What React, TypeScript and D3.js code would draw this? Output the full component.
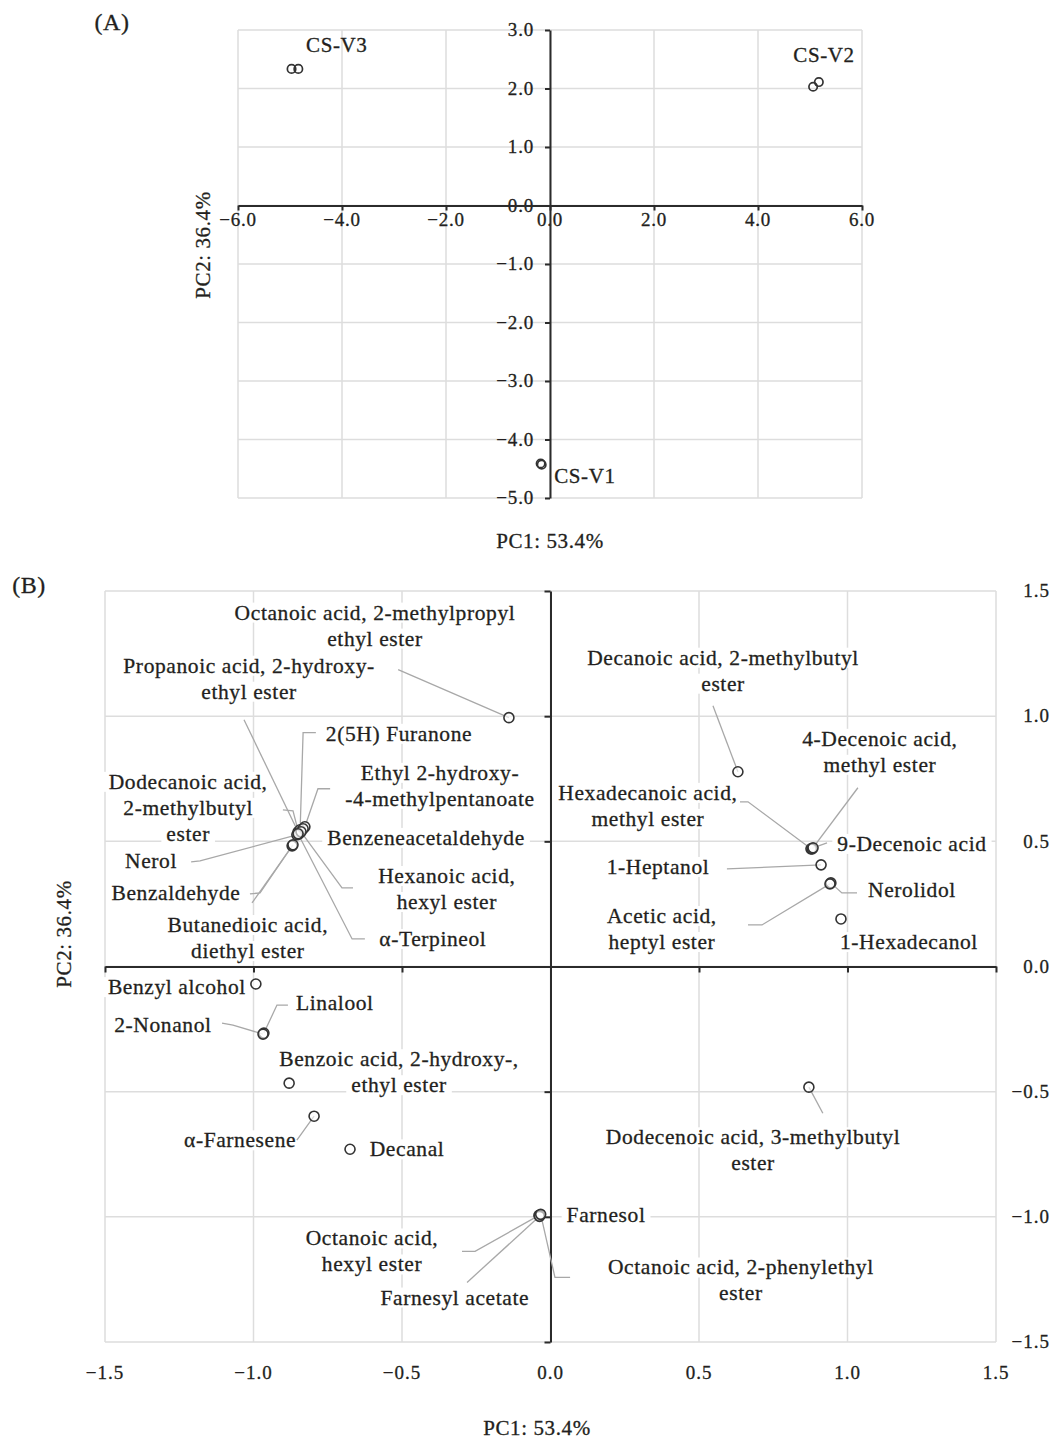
import React, { useEffect, useRef } from 'react';
import * as d3 from 'd3';

// ---------- Panel A: scores ----------
const scoreSamples = ['CS-V3', 'CS-V3', 'CS-V2', 'CS-V2', 'CS-V1', 'CS-V1'];
const scorePC1 = [-4.97, -4.84, 5.06, 5.17, -0.18, -0.16];
const scorePC2 = [2.335, 2.335, 2.03, 2.11, -4.41, -4.43];
const scoreLabelText = ['CS-V3', 'CS-V2', 'CS-V1'];
const scoreLabelPC1 = [-4.1, 5.27, 0.67];
const scoreLabelPC2 = [2.74, 2.57, -4.62];
const aXTicks = [-6, -4, -2, 0, 2, 4, 6];
const aYTicks = [3, 2, 1, 0, -1, -2, -3, -4, -5];

// ---------- Panel B: loadings ----------
const compounds = [
  'Octanoic acid, 2-methylpropyl ethyl ester', 'Propanoic acid, 2-hydroxy- ethyl ester', '2(5H) Furanone',
  'Ethyl 2-hydroxy-4-methylpentanoate', 'Dodecanoic acid, 2-methylbutyl ester', 'Benzeneacetaldehyde',
  'Nerol', 'Benzaldehyde', 'Butanedioic acid, diethyl ester', 'Hexanoic acid, hexyl ester', 'α-Terpineol',
  'Decanoic acid, 2-methylbutyl ester', 'Hexadecanoic acid, methyl ester', '4-Decenoic acid, methyl ester',
  '9-Decenoic acid', '1-Heptanol', 'Nerolidol', 'Acetic acid, heptyl ester', '1-Hexadecanol',
  'Benzyl alcohol', 'Linalool', '2-Nonanol', 'Benzoic acid, 2-hydroxy-, ethyl ester', 'α-Farnesene',
  'Decanal', 'Farnesol', 'Octanoic acid, hexyl ester', 'Farnesyl acetate',
  'Octanoic acid, 2-phenylethyl ester', 'Dodecenoic acid, 3-methylbutyl ester',
];
const loadPC1 = [-0.14, -0.85, -0.843, -0.827, -0.847, -0.833, -0.854, -0.87, -0.867, -0.84, -0.85,
  0.631, 0.877, 0.881, 0.884, 0.911, 0.944, 0.941, 0.978,
  -0.992, -0.965, -0.968, -0.88, -0.796, -0.675, -0.035, -0.039, -0.037, -0.033, 0.87];
const loadPC2 = [0.994, 0.538, 0.546, 0.558, 0.53, 0.55, 0.526, 0.482, 0.486, 0.538, 0.53,
  0.778, 0.47, 0.47, 0.474, 0.406, 0.334, 0.33, 0.19,
  -0.07, -0.266, -0.27, -0.466, -0.598, -0.73, -0.994, -0.994, -0.998, -0.99, -0.482];
const labelLines = [
  ['Octanoic acid, 2-methylpropyl', 'ethyl ester'], ['Propanoic acid, 2-hydroxy-', 'ethyl ester'], ['2(5H) Furanone'],
  ['Ethyl 2-hydroxy-', '-4-methylpentanoate'], ['Dodecanoic acid,', '2-methylbutyl', 'ester'], ['Benzeneacetaldehyde'],
  ['Nerol'], ['Benzaldehyde'], ['Butanedioic acid,', 'diethyl ester'], ['Hexanoic acid,', 'hexyl ester'], ['α-Terpineol'],
  ['Decanoic acid, 2-methylbutyl', 'ester'], ['Hexadecanoic acid,', 'methyl ester'], ['4-Decenoic acid,', 'methyl ester'],
  ['9-Decenoic acid'], ['1-Heptanol'], ['Nerolidol'], ['Acetic acid,', 'heptyl ester'], ['1-Hexadecanol'],
  ['Benzyl alcohol'], ['Linalool'], ['2-Nonanol'], ['Benzoic acid, 2-hydroxy-,', 'ethyl ester'], ['α-Farnesene'],
  ['Decanal'], ['Farnesol'], ['Octanoic acid,', 'hexyl ester'], ['Farnesyl acetate'],
  ['Octanoic acid, 2-phenylethyl', 'ester'], ['Dodecenoic acid, 3-methylbutyl', 'ester'],
];
// label anchor (centre of first line) in PC units
const labelPC1 = [-0.591, -1.015, -0.51, -0.372, -1.22, -0.419, -1.345, -1.261, -1.019, -0.349, -0.396,
  0.581, 0.328, 1.109, 1.217, 0.362, 1.217, 0.375, 1.207,
  -1.258, -0.726, -1.305, -0.51, -1.045, -0.483, 0.187, -0.601, -0.322, 0.641, 0.682];
const labelPC2 = [1.414, 1.202, 0.93, 0.774, 0.738, 0.514, 0.422, 0.294, 0.166, 0.362, 0.11,
  1.234, 0.694, 0.91, 0.49, 0.398, 0.306, 0.202, 0.098,
  -0.082, -0.146, -0.234, -0.37, -0.694, -0.73, -0.994, -1.086, -1.322, -1.202, -0.682];
// leader-line waypoints (PC units), the point itself is appended
const leaderPaths: [number, number][][] = [
  [[-0.513, 1.186]], [[-1.032, 0.986]], [[-0.79, 0.934], [-0.833, 0.934]],
  [[-0.742, 0.71], [-0.783, 0.71]], [[-0.901, 0.626], [-0.867, 0.622]], [],
  [[-1.21, 0.418], [-1.18, 0.422]], [[-1.012, 0.29], [-0.978, 0.294]], [[-1.005, 0.254]],
  [[-0.665, 0.314], [-0.702, 0.314]], [[-0.625, 0.11], [-0.668, 0.11]],
  [[0.547, 1.042]], [[0.638, 0.658], [0.665, 0.658]], [[1.035, 0.714]],
  [[0.931, 0.494]], [[0.594, 0.39]], [[1.032, 0.294], [0.981, 0.294]], [[0.665, 0.166], [0.712, 0.166]], [],
  [], [[-0.884, -0.154], [-0.921, -0.154]], [[-1.106, -0.226], [-1.069, -0.234]], [], [[-0.854, -0.694], [-0.837, -0.666]],
  [], [], [[-0.298, -1.138], [-0.254, -1.138]], [[-0.281, -1.262]],
  [[0.066, -1.242], [0.015, -1.242]], [[0.917, -0.586]],
];
const bTicks = [-1.5, -1.0, -0.5, 0.0, 0.5, 1.0, 1.5];

const FONT = '"Liberation Serif", "Times New Roman", serif';
const GRID = '#dddddd';
const AXIS = '#2b2b2b';
const LEADER = '#a8a8a8';
const TEXT = '#231f20';

export default function App() {
  const ref = useRef<SVGSVGElement>(null);

  useEffect(() => {
    const svg = d3.select(ref.current);
    svg.selectAll('*').remove();
    const fmt = d3.format('.1f');

    const addText = (g: any, s: string, x: number, y: number, size: number, anchor = 'middle', ls = 0.6) =>
      g.append('text').attr('x', x).attr('y', y).attr('dy', '0.33em').attr('text-anchor', anchor)
        .attr('font-family', FONT).attr('font-size', size).attr('letter-spacing', ls).attr('fill', TEXT)
        .attr('stroke', TEXT).attr('stroke-width', 0.3).text(s);

    const addLabel = (g: any, lines: string[], cx: number, cy: number, size: number, lineH: number, bg: boolean) => {
      const lg = g.append('g');
      lines.forEach((ln, i) => {
        const t = addText(lg, ln, cx, cy + i * lineH, size);
        if (bg) {
          const bb = (t.node() as SVGTextElement).getBBox();
          lg.insert('rect', 'text').attr('x', bb.x - 5).attr('y', bb.y + 2).attr('width', bb.width + 10)
            .attr('height', bb.height - 4).attr('fill', 'white');
        }
      });
    };

    // ================= Panel A =================
    const ax = d3.scaleLinear().domain([-6, 6]).range([238, 862]);
    const ay = d3.scaleLinear().domain([-5, 3]).range([498, 30]);
    const gA = svg.append('g');
    gA.selectAll('line.vg').data(aXTicks).join('line').attr('class', 'vg')
      .attr('x1', (d) => ax(d)).attr('x2', (d) => ax(d)).attr('y1', ay(3)).attr('y2', ay(-5))
      .attr('stroke', GRID).attr('stroke-width', 1.5);
    gA.selectAll('line.hg').data(aYTicks).join('line').attr('class', 'hg')
      .attr('y1', (d) => ay(d)).attr('y2', (d) => ay(d)).attr('x1', ax(-6)).attr('x2', ax(6))
      .attr('stroke', GRID).attr('stroke-width', 1.5);

    // tick labels
    aXTicks.forEach((t) => addText(gA, fmt(t), ax(t), 220, 19, 'middle', 0.8));
    aYTicks.forEach((t) => addText(gA, fmt(t), 534, ay(t), 19, 'end', 0.8));

    // axes
    const xAxisA = d3.axisBottom(ax).tickValues(aXTicks).tickSize(5).tickSizeOuter(0).tickFormat(() => '');
    gA.append('g').attr('transform', `translate(0,${ay(0)})`).call(xAxisA)
      .call((g: any) => g.selectAll('path,line').attr('stroke', AXIS).attr('stroke-width', 2));
    const yAxisA = d3.axisLeft(ay).tickValues(aYTicks).tickSize(5).tickSizeOuter(0).tickFormat(() => '');
    gA.append('g').attr('transform', `translate(${ax(0)},0)`).call(yAxisA)
      .call((g: any) => g.selectAll('path,line').attr('stroke', AXIS).attr('stroke-width', 2));

    scoreLabelText.forEach((s, i) => addLabel(gA, [s], ax(scoreLabelPC1[i]), ay(scoreLabelPC2[i]), 21, 26, false));
    gA.selectAll('circle').data(scoreSamples).join('circle')
      .attr('cx', (_d, i) => ax(scorePC1[i])).attr('cy', (_d, i) => ay(scorePC2[i])).attr('r', 4.2)
      .attr('fill', 'none').attr('stroke', '#333').attr('stroke-width', 1.7);

    addText(svg, '(A)', 112, 22, 24, 'middle', 0.5);
    addText(svg, 'PC1: 53.4%', 550, 541, 21, 'middle', 0.6);
    svg.append('g').attr('transform', 'translate(203,245) rotate(-90)')
      .call((g: any) => addText(g, 'PC2: 36.4%', 0, 0, 21, 'middle', 0.6));

    // ================= Panel B =================
    const bx = d3.scaleLinear().domain([-1.5, 1.5]).range([105, 996]);
    const by = d3.scaleLinear().domain([-1.5, 1.5]).range([1342, 591]);
    const gB = svg.append('g');
    gB.selectAll('line.vg').data(bTicks).join('line').attr('class', 'vg')
      .attr('x1', (d) => bx(d)).attr('x2', (d) => bx(d)).attr('y1', by(1.5)).attr('y2', by(-1.5))
      .attr('stroke', GRID).attr('stroke-width', 1.5);
    gB.selectAll('line.hg').data(bTicks).join('line').attr('class', 'hg')
      .attr('y1', (d) => by(d)).attr('y2', (d) => by(d)).attr('x1', bx(-1.5)).attr('x2', bx(1.5))
      .attr('stroke', GRID).attr('stroke-width', 1.5);

    // labels with white backgrounds
    compounds.forEach((_c, i) =>
      addLabel(gB, labelLines[i], bx(labelPC1[i]), by(labelPC2[i]), 21.5, 26, true));

    // axes
    const xAxisB = d3.axisBottom(bx).tickValues(bTicks).tickSize(6).tickSizeOuter(0).tickFormat(() => '');
    gB.append('g').attr('transform', `translate(0,${by(0)})`).call(xAxisB)
      .call((g: any) => g.selectAll('path,line').attr('stroke', AXIS).attr('stroke-width', 2));
    const yAxisB = d3.axisLeft(by).tickValues(bTicks).tickSize(6).tickSizeOuter(0).tickFormat(() => '');
    gB.append('g').attr('transform', `translate(${bx(0)},0)`).call(yAxisB)
      .call((g: any) => g.selectAll('path,line').attr('stroke', AXIS).attr('stroke-width', 2));

    bTicks.forEach((t) => addText(gB, fmt(t), bx(t), 1373, 19, 'middle', 1));
    bTicks.forEach((t) => addText(gB, fmt(t), 1050, by(t), 19, 'end', 1));

    // leader lines
    const line = d3.line<[number, number]>().x((d) => bx(d[0])).y((d) => by(d[1]));
    compounds.forEach((_c, i) => {
      if (!leaderPaths[i].length) return;
      const pts: [number, number][] = [...leaderPaths[i], [loadPC1[i], loadPC2[i]]];
      gB.append('path').attr('d', line(pts)).attr('fill', 'none').attr('stroke', LEADER).attr('stroke-width', 1.3);
    });

    gB.selectAll('circle').data(compounds).join('circle')
      .attr('cx', (_d, i) => bx(loadPC1[i])).attr('cy', (_d, i) => by(loadPC2[i])).attr('r', 5)
      .attr('fill', 'white').attr('fill-opacity', 0.6).attr('stroke', '#333').attr('stroke-width', 1.6);

    addText(svg, '(B)', 29, 585, 24, 'middle', 0.5);
    addText(svg, 'PC1: 53.4%', 537, 1428, 21, 'middle', 0.6);
    svg.append('g').attr('transform', 'translate(64,934) rotate(-90)')
      .call((g: any) => addText(g, 'PC2: 36.4%', 0, 0, 21, 'middle', 0.6));
  }, []);

  return (
    <svg ref={ref} width={1052} height={1441}
      style={{ position: 'absolute', left: 0, top: 0, display: 'block', background: 'white' }} />
  );
}
